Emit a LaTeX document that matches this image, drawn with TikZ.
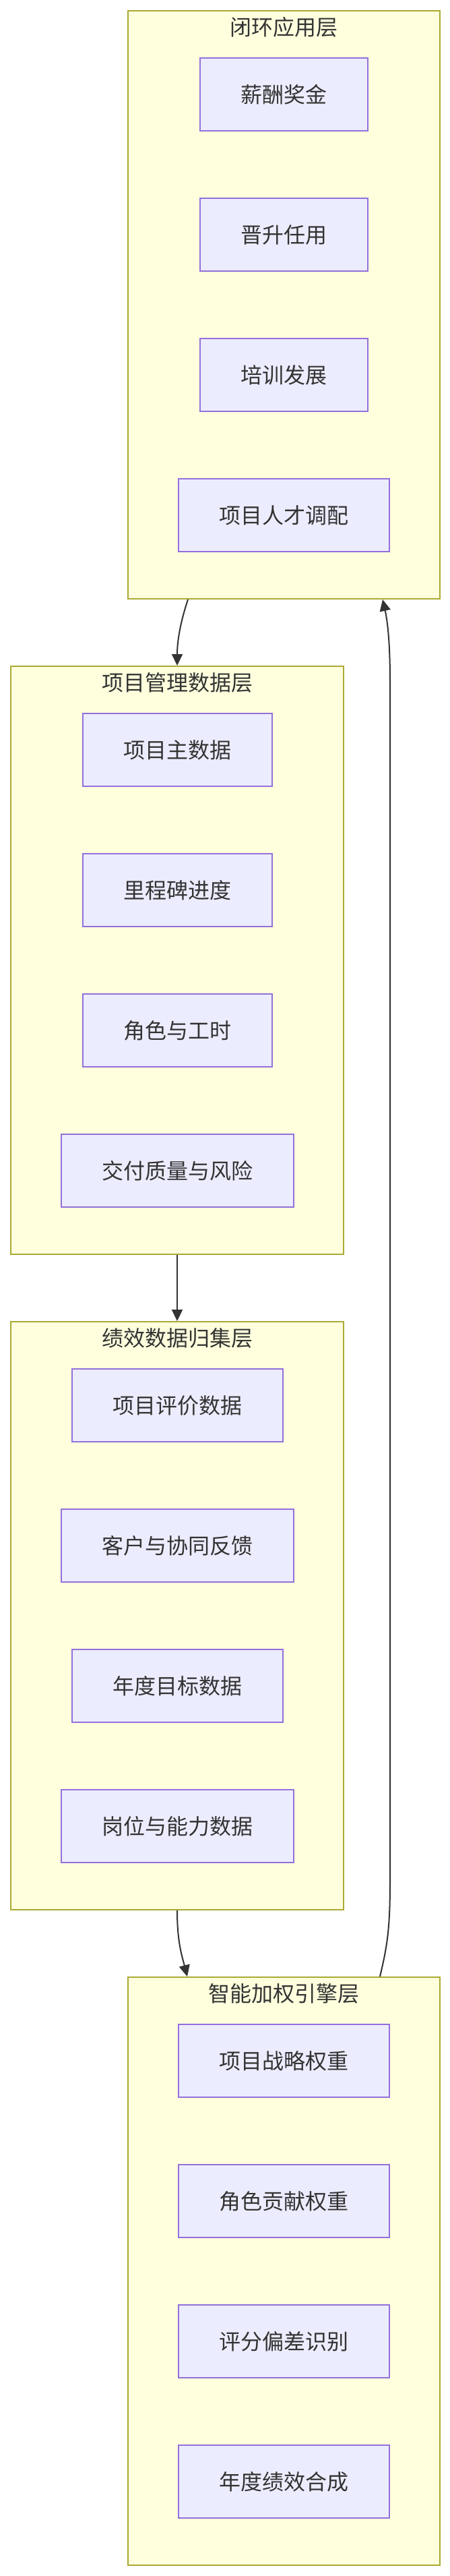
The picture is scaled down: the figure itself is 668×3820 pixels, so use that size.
\documentclass[tikz,border=0pt]{standalone}
\usepackage{fontspec}
\setmainfont{Noto Sans CJK SC}
\usetikzlibrary{arrows.meta}
\definecolor{clfill}{HTML}{FFFFDE}
\definecolor{clline}{HTML}{AAAA33}
\definecolor{ndfill}{HTML}{ECECFF}
\definecolor{ndline}{HTML}{9370DB}
\definecolor{txt}{HTML}{333333}
\begin{document}
\begin{tikzpicture}[x=1pt,y=-1pt,
  cluster/.style={draw=clline, fill=clfill, line width=2pt, minimum height=872pt, inner sep=0pt},
  box/.style={draw=ndline, fill=ndfill, line width=2pt, minimum height=108pt, inner xsep=60.5pt, inner ysep=0pt, text=txt, font=\fontsize{32pt}{38pt}\selectfont},
  ctitle/.style={text=txt, inner sep=0pt, font=\fontsize{32pt}{38pt}\selectfont},
  link/.style={draw=txt, line width=2pt, -{Triangle[length=17pt,width=16pt]}}]
\useasboundingbox[fill=white] (0,0) rectangle (668,3820);

% clusters
\node[cluster, minimum width=463pt] (c1) at (421.5,452) {};
\node[cluster, minimum width=494pt] (c2) at (263,1424) {};
\node[cluster, minimum width=494pt] (c3) at (263,2396) {};
\node[cluster, minimum width=463pt] (c4) at (421.5,3368) {};

% titles
\node[ctitle] (t1) at (421.5,40) {闭环应用层};
\node[ctitle] (t2) at (263,1012) {项目管理数据层};
\node[ctitle] (t3) at (263,1984) {绩效数据归集层};
\node[ctitle] (t4) at (421.5,2956) {智能加权引擎层};

% cluster 1
\node[box] (a1) at (421.5,140) {薪酬奖金};
\node[box] (a2) at (421.5,348) {晋升任用};
\node[box] (a3) at (421.5,556) {培训发展};
\node[box] (a4) at (421.5,764) {项目人才调配};

% cluster 2
\node[box] (b1) at (263,1112) {项目主数据};
\node[box] (b2) at (263,1320) {里程碑进度};
\node[box] (b3) at (263,1528) {角色与工时};
\node[box] (b4) at (263,1736) {交付质量与风险};

% cluster 3
\node[box] (d1) at (263,2084) {项目评价数据};
\node[box] (d2) at (263,2292) {客户与协同反馈};
\node[box] (d3) at (263,2500) {年度目标数据};
\node[box] (d4) at (263,2708) {岗位与能力数据};

% cluster 4
\node[box] (e1) at (421.5,3056) {项目战略权重};
\node[box] (e2) at (421.5,3264) {角色贡献权重};
\node[box] (e3) at (421.5,3472) {评分偏差识别};
\node[box] (e4) at (421.5,3680) {年度绩效合成};

% connectors
\draw[link] ([xshift=-142.5pt]c1.south) .. controls (268,922) and (263,950) .. (c2.north);
\draw[link] (c2.south) -- (c3.north);
\draw[link] (c3.south) .. controls (263,2880) and (270,2900) .. ([xshift=-143.5pt]c4.north);
\draw[link] ([xshift=142.5pt]c4.north) .. controls (575,2885) and (579,2860) .. (579,2790)
  -- (579,1010) .. controls (579,950) and (575,920) .. ([xshift=146.5pt]c1.south);
\end{tikzpicture}
\end{document}
